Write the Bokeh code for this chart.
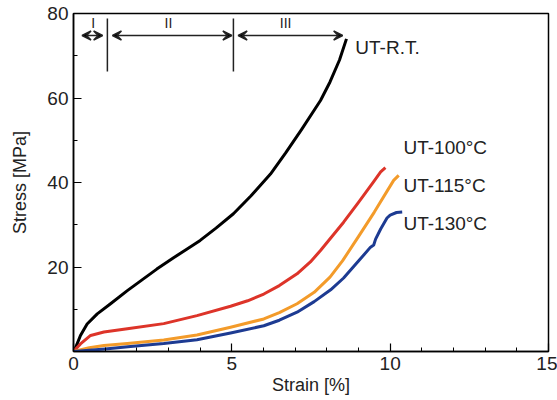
from bokeh.plotting import figure
from bokeh.models import ColumnDataSource, Arrow, VeeHead, FixedTicker, Range1d
from bokeh.core.properties import value
from bokeh.embed import file_html
from bokeh.resources import INLINE

# ---- data ----
rt_strain = [0, 0.06, 0.22, 0.43, 0.75, 1.17, 1.7, 2.1, 2.63, 3.16, 3.6, 4.0, 4.5, 5.05, 5.6, 6.22, 6.7, 7.2, 7.8, 8.1, 8.4, 8.62]
rt_stress = [0, 0.8, 3.8, 6.5, 8.9, 11.3, 14.4, 16.6, 19.5, 22.2, 24.3, 26.3, 29.2, 32.6, 36.8, 42.0, 47.0, 52.5, 59.4, 63.8, 69.0, 74.0]

t100_strain = [0, 0.22, 0.54, 0.96, 1.7, 2.85, 3.9, 4.96, 5.5, 6.01, 6.5, 7.06, 7.48, 7.8, 8.53, 9.0, 9.48, 9.7, 9.85]
t100_stress = [0, 1.8, 3.8, 4.6, 5.4, 6.6, 8.5, 10.7, 12.0, 13.6, 15.6, 18.4, 21.2, 23.9, 30.6, 35.3, 40.2, 42.5, 43.5]

t115_strain = [0, 0.5, 0.96, 1.7, 2.85, 3.9, 4.96, 6.01, 6.5, 7.06, 7.6, 8.1, 8.5, 9.06, 9.5, 10.11, 10.27]
t115_stress = [0, 0.9, 1.4, 1.9, 2.7, 3.9, 5.75, 7.7, 9.2, 11.3, 14.0, 17.6, 21.5, 27.9, 33.0, 40.5, 41.7]

t130_strain = [0, 0.5, 1.0, 1.8, 2.85, 3.9, 4.96, 6.01, 6.5, 7.06, 7.6, 8.12, 8.53, 9.0, 9.38, 9.48, 9.54, 9.7, 9.9, 10.0, 10.2, 10.38]
t130_stress = [0, 0.3, 0.6, 1.2, 1.9, 2.8, 4.4, 6.1, 7.4, 9.3, 11.8, 14.6, 17.4, 21.4, 24.7, 25.2, 26.6, 29.0, 31.6, 32.3, 32.9, 33.0]

curve_labels = ["UT-R.T.", "UT-100°C", "UT-115°C", "UT-130°C"]
curve_label_x = [8.9, 10.42, 10.42, 10.42]
curve_label_y = [72, 48.3, 39.3, 30.3]

region_names = ["I", "II", "III"]
region_label_x = [0.62, 3.0, 6.7]
region_label_y = [77.8, 77.8, 77.8]
region_arrow_start = [0.27, 1.23, 5.2]
region_arrow_end = [0.92, 5.0, 8.5]
region_arrow_y = [74.8, 74.8, 74.8]
boundary_x = [1.07, 5.05]
boundary_y0 = [66.3, 66.3]
boundary_y1 = [78.8, 78.8]

x_major = [0, 5, 10, 15]
x_minor = [1, 2, 3, 4, 6, 7, 8, 9, 11, 12, 13, 14]
y_major = [20, 40, 60, 80]
y_minor = [10, 30, 50, 70]

FONT = "Liberation Sans"

p = figure(width=557, height=400, output_backend="svg", toolbar_location=None,
           x_range=Range1d(0, 15), y_range=Range1d(0, 80),
           min_border_left=73, min_border_right=9, min_border_top=13, min_border_bottom=49)
p.xgrid.visible = False
p.ygrid.visible = False
p.outline_line_color = "black"
p.outline_line_width = 1.5
p.background_fill_color = "white"
p.border_fill_color = "white"

for ax, maj, mnr in ((p.xaxis[0], x_major, x_minor), (p.yaxis[0], y_major, y_minor)):
    ax.ticker = FixedTicker(ticks=maj, minor_ticks=mnr)
    ax.major_tick_in = 8
    ax.major_tick_out = 0
    ax.minor_tick_in = 4
    ax.minor_tick_out = 0
    ax.axis_line_width = 1.5
    ax.axis_line_color = "black"
    ax.major_tick_line_color = "black"
    ax.minor_tick_line_color = "black"
    ax.major_tick_line_width = 1.2
    ax.major_label_text_font = FONT
    ax.major_label_text_font_size = "19px"
    ax.major_label_text_color = "#222222"
    ax.axis_label_text_font = FONT
    ax.axis_label_text_font_size = "18px"
    ax.axis_label_text_font_style = "normal"
    ax.axis_label_text_color = "#222222"
    ax.major_label_standoff = 5

p.xaxis.axis_label = "Strain [%]"
p.yaxis.axis_label = "Stress [MPa]"
p.xaxis.axis_label_standoff = 2
p.yaxis.axis_label_standoff = 14

p.line(rt_strain, rt_stress, line_color="black", line_width=3, line_join="round")
p.line(t100_strain, t100_stress, line_color="#dd3429", line_width=3, line_join="round")
p.line(t115_strain, t115_stress, line_color="#f39b2a", line_width=3, line_join="round")
p.line(t130_strain, t130_stress, line_color="#1d3b92", line_width=3, line_join="round")

p.text(x=curve_label_x, y=curve_label_y, text=curve_labels, text_font=value(FONT),
       text_font_size="19px", text_baseline="middle", text_align="left", text_color="#222222")

p.segment(x0=boundary_x, y0=boundary_y0, x1=boundary_x, y1=boundary_y1, line_color="#222222", line_width=1.5)

arrow_src = ColumnDataSource(dict(x0=region_arrow_start, x1=region_arrow_end, y=region_arrow_y))
p.add_layout(Arrow(start=VeeHead(size=9, line_width=1.5, line_color="#222222"),
                   end=VeeHead(size=9, line_width=1.5, line_color="#222222"),
                   x_start="x0", y_start="y", x_end="x1", y_end="y",
                   line_width=1.5, line_color="#222222", source=arrow_src))

p.text(x=region_label_x, y=region_label_y, text=region_names, text_font=value(FONT),
       text_font_size="14px", text_baseline="middle", text_align="center", text_color="#222222")

open("out.html", "w").write(file_html(p, INLINE))
